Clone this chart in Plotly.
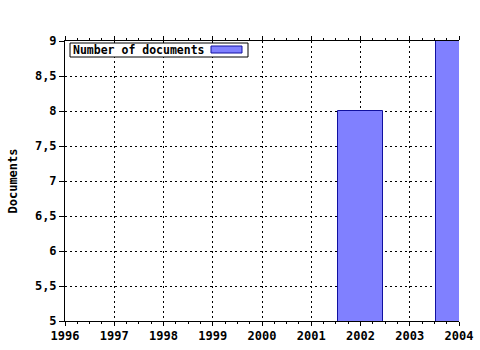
import plotly.graph_objects as go

years = [2002, 2004]
documents = [8, 9]
series_name = "Number of documents"
x_ticks = [1996, 1997, 1998, 1999, 2000, 2001, 2002, 2003, 2004]
y_ticks = [5, 5.5, 6, 6.5, 7, 7.5, 8, 8.5, 9]
y_labels = ["5", "5,5", "6", "6,5", "7", "7,5", "8", "8,5", "9"]

W, H = 480, 350
L, R, T, B = 65, 459, 41, 321
FONT = dict(family="DejaVu Sans Mono", size=12, color="black", weight="bold")
LEG_FONT = dict(family="DejaVu Sans Mono", size=11.5, color="black", weight="bold")

def px(xp):
    return (xp - L) / (R - L)

def py(yp):
    return (B - yp) / (B - T)

fig = go.Figure()
fig.add_trace(go.Bar(
    x=years, y=documents, name=series_name, width=0.92,
    marker=dict(color="#8080ff", line=dict(color="#1010a0", width=1)),
    showlegend=False,
))

fig.update_layout(
    width=W, height=H,
    margin=dict(l=L, r=W - R, t=T, b=H - B, autoexpand=False),
    paper_bgcolor="white", plot_bgcolor="white",
    font=FONT,
    bargap=0,
)
fig.update_xaxes(
    range=[1996, 2004], tickvals=x_ticks, ticktext=[str(v) for v in x_ticks],
    showline=True, linecolor="black", linewidth=1, mirror="allticks",
    ticks="outside", ticklen=4, tickcolor="black",
    minor=dict(dtick=0.25, ticks="outside", ticklen=2, tickcolor="black", showgrid=False),
    showgrid=True, gridcolor="black", gridwidth=1, griddash="2px,3px",
    zeroline=False, tickfont=FONT, automargin=False,
)
fig.update_yaxes(
    range=[5, 9], tickvals=y_ticks, ticktext=y_labels,
    showline=True, linecolor="black", linewidth=1,
    ticks="outside", ticklen=5, tickcolor="black",
    showgrid=True, gridcolor="black", gridwidth=1, griddash="2px,3px",
    zeroline=False, tickfont=FONT, automargin=False,
    title=dict(text="Documents", font=FONT, standoff=14),
)

# legend box (text then swatch)
fig.add_shape(type="rect", xref="paper", yref="paper",
              x0=px(70), x1=px(248), y0=py(57), y1=py(43),
              line=dict(color="black", width=1), fillcolor="white", layer="above")
fig.add_shape(type="rect", xref="paper", yref="paper",
              x0=px(211), x1=px(242), y0=py(53), y1=py(46),
              line=dict(color="#1010a0", width=1), fillcolor="#8080ff", layer="above")
fig.add_annotation(text=series_name, xref="paper", yref="paper",
                   x=px(71), y=py(50), xanchor="left", yanchor="middle",
                   showarrow=False, font=LEG_FONT)

fig.write_html("out.html")
